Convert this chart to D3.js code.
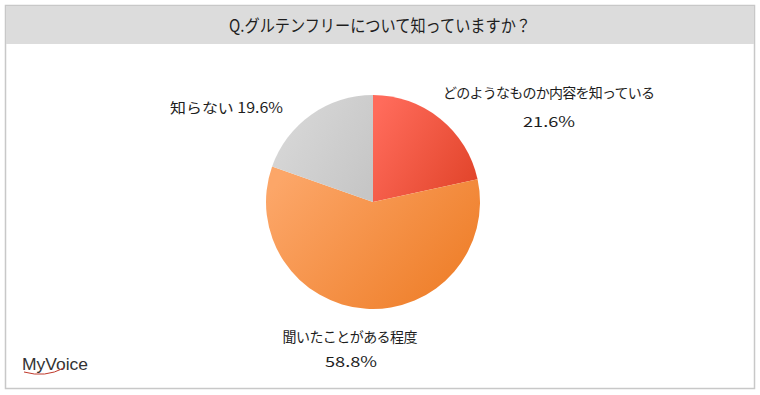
<!DOCTYPE html>
<html>
<head>
<meta charset="utf-8">
<script src="https://cdn.jsdelivr.net/npm/d3@7"></script>
<style>
  body { margin: 0; background: #fff; }
  text { font-family: "Noto Sans CJK JP", "Noto Sans", sans-serif; fill: #1e1e1e; }
</style>
</head>
<body>
<script>
// Chart data
const title = "Q.グルテンフリーについて知っていますか？";
const categories = ["どのようなものか内容を知っている", "聞いたことがある程度", "知らない"];
const values = [21.6, 58.8, 19.6];
const colors = [["#ff6b5b", "#e2452b"], ["#fca668", "#ee7d27"], ["#d9d9d9", "#c6c6c6"]];

const W = 760, H = 395;
const svg = d3.select("body").append("svg").attr("width", W).attr("height", H);

// Frame and title band
svg.append("rect").attr("x", 5.5).attr("y", 5.5).attr("width", 749).attr("height", 383)
   .attr("fill", "#fff").attr("stroke", "#c8c8c8").attr("stroke-width", 1.5);
svg.append("rect").attr("x", 6).attr("y", 6).attr("width", 748).attr("height", 38).attr("fill", "#dcdcdc");
svg.append("text").attr("x", 380).attr("y", 32).attr("text-anchor", "middle")
   .style("font-size", "17px").attr("textLength", 302).attr("lengthAdjust", "spacingAndGlyphs")
   .text(title);

// Gradients for slices, light on the left, darker on the right
const defs = svg.append("defs");
colors.forEach((c, i) => {
  const gr = defs.append("linearGradient").attr("id", "g" + i)
    .attr("x1", "0%").attr("y1", "20%").attr("x2", "100%").attr("y2", "80%");
  gr.append("stop").attr("offset", "0%").attr("stop-color", c[0]);
  gr.append("stop").attr("offset", "100%").attr("stop-color", c[1]);
});

// Pie
const cx = 373, cy = 202, R = 107;
const pie = d3.pie().sort(null).value(d => d);
const arc = d3.arc().innerRadius(0).outerRadius(R);
const g = svg.append("g").attr("transform", `translate(${cx},${cy})`);
g.selectAll("path").data(pie(values)).enter().append("path")
  .attr("d", arc)
  .attr("fill", (d, i) => `url(#g${i})`);

// Labels
const fmt = v => v.toFixed(1) + "%";
const lab = svg.append("g").style("font-size", "14px");
lab.append("text").attr("x", 549).attr("y", 98).attr("text-anchor", "middle")
  .attr("textLength", 212).text(categories[0]);
lab.append("text").attr("x", 549).attr("y", 127).attr("text-anchor", "middle")
  .attr("textLength", 52).attr("lengthAdjust", "spacingAndGlyphs").text(fmt(values[0]));
lab.append("text").attr("x", 350).attr("y", 342).attr("text-anchor", "middle")
  .attr("textLength", 135).text(categories[1]);
lab.append("text").attr("x", 351).attr("y", 367).attr("text-anchor", "middle")
  .attr("textLength", 52).attr("lengthAdjust", "spacingAndGlyphs").text(fmt(values[1]));
lab.append("text").attr("x", 170).attr("y", 113)
  .attr("textLength", 113).attr("lengthAdjust", "spacingAndGlyphs")
  .text(categories[2] + "  " + fmt(values[2]));

// Logo
const logo = svg.append("g");
logo.append("text").attr("x", 22).attr("y", 370)
  .style("font-family", "'Liberation Sans', sans-serif").style("font-size", "17px")
  .attr("textLength", 66).attr("lengthAdjust", "spacingAndGlyphs")
  .style("fill", "#333").text("MyVoice");
logo.append("path").attr("d", "M24,372 Q45,378 64,368")
  .attr("fill", "none").attr("stroke", "#c0392b").attr("stroke-width", 1);
</script>
</body>
</html>
